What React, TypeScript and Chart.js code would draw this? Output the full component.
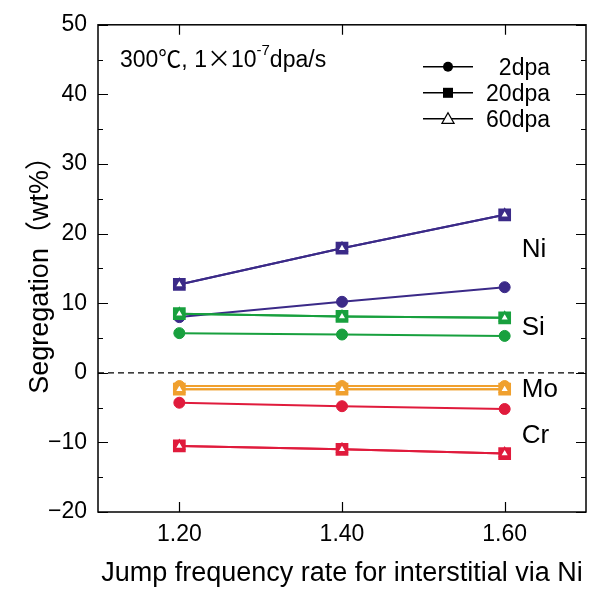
import { useEffect, useRef } from 'react';
import { Chart, registerables } from 'chart.js';

Chart.register(...registerables);

const jumpRates = [1.2, 1.4, 1.6];
const xTickValues = [1.2, 1.4, 1.6];
const doses = ['2dpa', '20dpa', '60dpa'];
const elements = ['Ni', 'Si', 'Mo', 'Cr'];
const elementColors = ['#3b2a88', '#18a03e', '#f0a02e', '#e01b3c'];
const elementLabelValues = [17.7, 6.4, -2.4, -9.1];

const ni2dpa = [8.0, 10.2, 12.3];
const ni20dpa = [12.7, 17.9, 22.7];
const ni60dpa = [12.7, 17.9, 22.7];
const si2dpa = [5.7, 5.5, 5.3];
const si20dpa = [8.5, 8.1, 7.9];
const si60dpa = [8.5, 8.1, 7.9];
const mo2dpa = [-1.9, -1.9, -1.9];
const mo20dpa = [-2.35, -2.35, -2.35];
const mo60dpa = [-2.35, -2.35, -2.35];
const cr2dpa = [-4.3, -4.8, -5.2];
const cr20dpa = [-10.5, -11.0, -11.6];
const cr60dpa = [-10.5, -11.0, -11.6];

const seriesByElement = [
  [ni2dpa, ni20dpa, ni60dpa],
  [si2dpa, si20dpa, si60dpa],
  [mo2dpa, mo20dpa, mo60dpa],
  [cr2dpa, cr20dpa, cr60dpa],
];

const FONT = '"Liberation Sans", Arial, "Noto Sans CJK JP", sans-serif';

function buildDatasets() {
  const ds: any[] = [];
  seriesByElement.forEach((group, ei) => {
    const color = elementColors[ei];
    group.forEach((vals, di) => {
      const base: any = {
        label: `${elements[ei]} ${doses[di]}`,
        data: jumpRates.map((x, i) => ({ x, y: vals[i] })),
        borderColor: color,
        borderWidth: 2,
        showLine: true,
        order: 2 - di,
      };
      if (di === 0) {
        base.pointStyle = 'circle';
        base.pointRadius = 5.5;
        base.pointBackgroundColor = color;
        base.pointBorderColor = color;
        base.pointBorderWidth = 1;
      } else if (di === 1) {
        base.pointStyle = 'rect';
        base.pointRadius = 9;
        base.pointBackgroundColor = color;
        base.pointBorderColor = color;
        base.pointBorderWidth = 0;
      } else {
        base.pointStyle = 'triangle';
        base.pointRadius = 5.5;
        base.pointBackgroundColor = '#ffffff';
        base.pointBorderColor = color;
        base.pointBorderWidth = 2;
      }
      ds.push(base);
    });
  });
  return ds;
}

const framePlugin = {
  id: 'frameAndText',
  beforeDatasetsDraw(chart: any) {
    const { ctx, chartArea: a, scales } = chart;
    const y0 = scales.y.getPixelForValue(0);
    ctx.save();
    ctx.setLineDash([6, 4]);
    ctx.lineWidth = 1.2;
    ctx.strokeStyle = '#000';
    ctx.beginPath();
    ctx.moveTo(a.left, y0);
    ctx.lineTo(a.right, y0);
    ctx.stroke();
    ctx.restore();
  },
  afterDraw(chart: any) {
    const { ctx, chartArea: a, scales } = chart;
    const xs = scales.x;
    const ys = scales.y;
    ctx.save();
    ctx.strokeStyle = '#000';
    ctx.lineWidth = 1.5;
    ctx.strokeRect(a.left, a.top, a.right - a.left, a.bottom - a.top);
    ctx.lineWidth = 1.2;
    ctx.beginPath();
    xTickValues.forEach((v) => {
      const px = Math.round(xs.getPixelForValue(v)) + 0.5;
      ctx.moveTo(px, a.bottom);
      ctx.lineTo(px, a.bottom - 10);
      ctx.moveTo(px, a.top);
      ctx.lineTo(px, a.top + 10);
    });
    for (let v = ys.min; v <= ys.max; v += 5) {
      const py = Math.round(ys.getPixelForValue(v)) + 0.5;
      const len = v % 10 === 0 ? 10 : 5;
      ctx.moveTo(a.left, py);
      ctx.lineTo(a.left + len, py);
      ctx.moveTo(a.right, py);
      ctx.lineTo(a.right - len, py);
    }
    ctx.stroke();

    // element labels
    ctx.fillStyle = '#000';
    ctx.font = `26px ${FONT}`;
    ctx.textAlign = 'left';
    ctx.textBaseline = 'middle';
    elements.forEach((name, i) => {
      ctx.fillText(name, xs.getPixelForValue(1.621), ys.getPixelForValue(elementLabelValues[i]));
    });

    // condition annotation
    ctx.textBaseline = 'alphabetic';
    let tx = a.left + 22;
    const ty = a.top + 42;
    ctx.font = `23px ${FONT}`;
    const p1 = '300℃, 1';
    ctx.fillText(p1, tx, ty);
    tx += ctx.measureText(p1).width;
    ctx.font = `24px "Noto Sans CJK JP", ${FONT}`;
    ctx.fillText('×', tx, ty);
    tx += ctx.measureText('×').width;
    ctx.font = `23px ${FONT}`;
    ctx.fillText('10', tx, ty);
    tx += ctx.measureText('10').width;
    ctx.font = `15px ${FONT}`;
    ctx.fillText('-7', tx, ty - 12);
    tx += ctx.measureText('-7').width;
    ctx.font = `23px ${FONT}`;
    ctx.fillText('dpa/s', tx, ty);

    // legend
    const lx0 = a.right - 163;
    const lx1 = a.right - 113;
    const mx = (lx0 + lx1) / 2;
    const rows = [a.top + 42, a.top + 68, a.top + 94];
    ctx.font = `23px ${FONT}`;
    ctx.textAlign = 'right';
    ctx.textBaseline = 'middle';
    doses.forEach((d, i) => {
      const y = rows[i];
      ctx.strokeStyle = '#000';
      ctx.lineWidth = 1.5;
      ctx.beginPath();
      ctx.moveTo(lx0, y);
      ctx.lineTo(lx1, y);
      ctx.stroke();
      ctx.fillStyle = '#000';
      if (i === 0) {
        ctx.beginPath();
        ctx.arc(mx, y, 5, 0, Math.PI * 2);
        ctx.fill();
      } else if (i === 1) {
        ctx.fillRect(mx - 5, y - 5, 10, 10);
      } else {
        ctx.beginPath();
        ctx.moveTo(mx, y - 6);
        ctx.lineTo(mx + 6, y + 4.5);
        ctx.lineTo(mx - 6, y + 4.5);
        ctx.closePath();
        ctx.fillStyle = '#fff';
        ctx.fill();
        ctx.lineWidth = 1.3;
        ctx.stroke();
      }
      ctx.fillStyle = '#000';
      ctx.fillText(d, a.right - 36, y + 2);
    });
    ctx.restore();
  },
};

export default function App() {
  const ref = useRef<HTMLCanvasElement | null>(null);
  useEffect(() => {
    if (!ref.current) return;
    const chart = new Chart(ref.current, {
      type: 'line',
      data: { datasets: buildDatasets() },
      options: {
        animation: false,
        responsive: false,
        maintainAspectRatio: false,
        layout: { padding: { top: 20, right: 17, left: 0, bottom: 0 } },
        plugins: { legend: { display: false }, tooltip: { enabled: false } },
        scales: {
          x: {
            type: 'linear',
            min: 1.1,
            max: 1.7,
            grid: { display: false, drawTicks: false },
            border: { display: false },
            afterBuildTicks: (s: any) => {
              s.ticks = xTickValues.map((v) => ({ value: v }));
            },
            afterFit: (s: any) => {
              s.height = 80;
            },
            ticks: {
              padding: 9,
              color: '#000',
              font: { family: FONT, size: 23 },
              callback: (v: any) => Number(v).toFixed(2),
            },
            title: {
              display: true,
              text: 'Jump frequency rate for interstitial via Ni',
              color: '#000',
              font: { family: FONT, size: 27 },
              padding: { top: 0, bottom: 2 },
            },
          },
          y: {
            type: 'linear',
            min: -20,
            max: 50,
            grid: { display: false, drawTicks: false },
            border: { display: false },
            afterFit: (s: any) => {
              s.width = 98;
            },
            ticks: {
              stepSize: 10,
              padding: 11,
              color: '#000',
              font: { family: FONT, size: 23 },
              callback: (v: any) => (Number(v) < 0 ? '\u2212' + Math.abs(Number(v)) : String(v)),
            },
            title: {
              display: true,
              text: 'Segregation（wt%）',
              color: '#000',
              font: { family: FONT, size: 27 },
              padding: { top: 24, bottom: 0 },
            },
          },
        },
      },
      plugins: [framePlugin],
    } as any);
    return () => chart.destroy();
  }, []);
  return (
    <div style={{ position: 'absolute', left: 0, top: 0, width: 603, height: 592 }}>
      <canvas ref={ref} width={603} height={592} style={{ width: 603, height: 592, display: 'block' }} />
    </div>
  );
}
